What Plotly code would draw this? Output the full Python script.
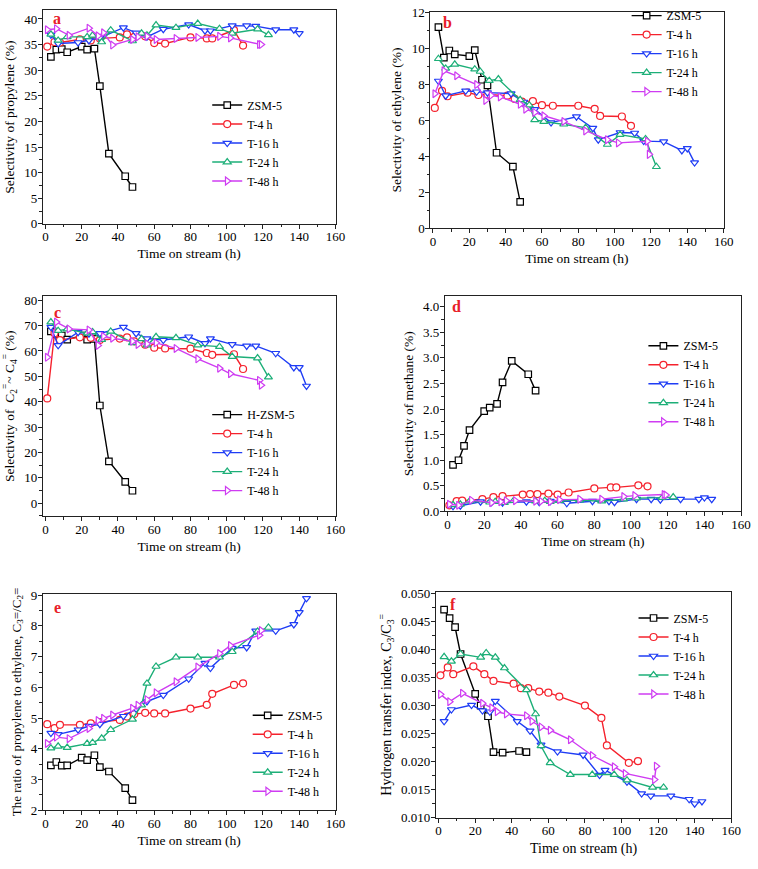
import plotly.graph_objects as go

W, H = 758, 869
SERIF = "Liberation Serif, Times New Roman, serif"

# ---------------- data ----------------
series_names = ["ZSM-5", "T-4 h", "T-16 h", "T-24 h", "T-48 h"]
series_names_c = ["H-ZSM-5", "T-4 h", "T-16 h", "T-24 h", "T-48 h"]

t_zsm = [3, 6, 9, 12, 20, 23, 27, 30, 35, 44, 48]
t_4 = [1, 5, 8, 19, 25, 30, 41, 45, 49, 55, 60, 66, 80, 89, 92, 104, 109]
t_16 = [3, 7, 18, 24, 30, 43, 50, 56, 65, 79, 88, 91, 103, 111, 116, 127, 137, 140, 144]
t_16_a = [3, 7, 18, 24, 30, 43, 50, 56, 65, 79, 88, 91, 103, 111, 116, 127, 137, 140]
t_16_f = [3, 7, 18, 24, 28, 31, 43, 50, 56, 65, 79, 88, 91, 103, 111, 116, 127, 137, 140, 144]
t_24 = [3, 7, 12, 23, 26, 31, 36, 48, 53, 56, 61, 72, 84, 96, 103, 117, 123]
t_48 = [1, 6, 13, 24, 29, 32, 37, 48, 51, 56, 61, 72, 84, 96, 102, 118, 119]

# (a) selectivity of propylene (%)
a_zsm = [32.6, 34.0, 34.1, 33.5, 34.6, 34.0, 34.2, 26.9, 13.7, 9.3, 7.2]
a_t4 = [34.6, 35.5, 35.4, 36.0, 35.8, 36.2, 36.4, 37.0, 36.5, 36.6, 35.3, 35.2, 36.4, 36.2, 36.2, 37.8, 34.8]
a_t16 = [36.9, 35.2, 35.4, 35.8, 36.3, 38.3, 37.3, 36.5, 38.0, 38.9, 37.7, 37.7, 38.7, 38.7, 38.6, 37.9, 37.9, 37.2]
a_t24 = [37.0, 35.8, 36.5, 36.5, 36.8, 35.5, 37.8, 35.7, 37.2, 36.8, 38.8, 38.3, 39.1, 38.1, 37.2, 38.0, 36.9]
a_t48 = [37.9, 38.1, 36.8, 38.2, 36.7, 37.3, 34.9, 36.0, 36.5, 36.6, 36.0, 36.2, 36.4, 36.6, 36.3, 35.0, 35.0]

# (b) selectivity of ethylene (%)
b_zsm = [11.2, 9.5, 9.9, 9.68, 9.59, 9.92, 8.27, 7.95, 4.2, 3.43, 1.46]
b_t4 = [6.7, 7.65, 7.35, 7.55, 7.42, 7.45, 7.38, 7.2, 7.05, 7.08, 6.85, 6.82, 6.82, 6.65, 6.25, 6.22, 5.7]
b_t16 = [8.2, 7.38, 7.65, 7.6, 7.55, 7.5, 7.03, 6.62, 5.88, 6.21, 5.57, 4.93, 5.33, 5.3, 4.85, 4.82, 4.33, 4.44, 3.65]
b_t24 = [9.44, 8.9, 9.13, 8.86, 8.73, 8.22, 8.31, 7.15, 6.85, 6.03, 5.94, 5.79, 5.6, 4.66, 5.21, 4.97, 3.42]
b_t48 = [7.49, 8.77, 8.49, 8.0, 7.12, 7.40, 7.31, 6.9, 6.63, 6.45, 6.26, 5.94, 5.42, 4.93, 4.75, 4.84, 4.11]

# (c) selectivity of C2= ~ C4= (%)
c_zsm = [67.7, 66.5, 66.1, 64.5, 66.1, 64.5, 64.8, 38.5, 16.5, 8.4, 4.9]
c_t4 = [41.3, 67.0, 64.3, 65.4, 65.2, 64.3, 64.9, 65.4, 63.8, 62.5, 61.3, 61.0, 60.9, 59.2, 58.5, 58.7, 52.9]
c_t16 = [69.4, 62.2, 67.4, 66.8, 66.9, 69.4, 66.9, 64.9, 64.3, 65.6, 63.0, 64.9, 62.6, 62.0, 62.0, 59.1, 53.5, 53.5, 46.2]
c_t24 = [71.4, 68.0, 68.6, 67.0, 67.5, 64.5, 67.7, 63.2, 64.8, 62.3, 65.6, 65.2, 62.3, 61.7, 57.8, 57.2, 49.7]
c_t48 = [57.5, 71.4, 68.7, 68.3, 62.2, 65.8, 65.0, 63.8, 62.6, 62.8, 63.2, 61.0, 56.9, 53.2, 51.0, 48.4, 46.5]

# (d) selectivity of methane (%)
d_zsm = [0.91, 1.0, 1.28, 1.59, 1.96, 2.03, 2.10, 2.52, 2.94, 2.68, 2.36]
d_t4 = [0.12, 0.20, 0.21, 0.24, 0.28, 0.30, 0.33, 0.34, 0.34, 0.35, 0.33, 0.37, 0.45, 0.47, 0.47, 0.51, 0.49]
d_t16 = [0.10, 0.11, 0.19, 0.18, 0.17, 0.19, 0.18, 0.20, 0.16, 0.20, 0.20, 0.18, 0.24, 0.24, 0.23, 0.24, 0.24, 0.27, 0.24]
d_t24 = [0.13, 0.14, 0.20, 0.18, 0.19, 0.17, 0.21, 0.20, 0.21, 0.19, 0.21, 0.22, 0.20, 0.24, 0.26, 0.27, 0.28]
d_t48 = [0.14, 0.12, 0.22, 0.17, 0.19, 0.21, 0.21, 0.20, 0.20, 0.19, 0.23, 0.24, 0.24, 0.29, 0.31, 0.33, 0.32]

# (e) ratio of propylene to ethylene
e_zsm = [3.46, 3.57, 3.45, 3.46, 3.71, 3.63, 3.79, 3.40, 3.26, 2.72, 2.33]
e_t4 = [4.80, 4.67, 4.78, 4.78, 4.83, 4.87, 4.94, 5.05, 5.13, 5.17, 5.15, 5.15, 5.31, 5.43, 5.79, 6.08, 6.13]
e_t16 = [4.51, 4.47, 4.62, 4.74, 4.80, 5.06, 5.30, 5.54, 5.75, 6.28, 6.79, 6.63, 7.28, 7.30, 7.84, 7.84, 8.05, 8.44, 8.90]
e_t24 = [4.02, 4.08, 4.04, 4.17, 4.20, 4.34, 4.62, 4.96, 5.42, 6.13, 6.68, 6.98, 6.98, 6.98, 7.16, 7.82, 7.95]
e_t48 = [4.17, 4.38, 4.33, 4.66, 4.92, 4.99, 5.10, 5.32, 5.42, 5.60, 5.82, 6.18, 6.66, 7.10, 7.36, 7.70, 7.85]

# (f) hydrogen transfer index
f_zsm = [0.0471, 0.0456, 0.0440, 0.0392, 0.0321, 0.0300, 0.0281, 0.0217, 0.0216, 0.0219, 0.0217]
f_t4 = [0.0354, 0.0368, 0.0356, 0.0370, 0.0356, 0.0344, 0.0339, 0.0331, 0.0331, 0.0325, 0.0323, 0.0316, 0.0300, 0.0278, 0.0229, 0.0198, 0.0201]
f_t16 = [0.0272, 0.0293, 0.0301, 0.0291, 0.0289, 0.0308, 0.0272, 0.0255, 0.0230, 0.0218, 0.0212, 0.0176, 0.0185, 0.0164, 0.0143, 0.0139, 0.0139, 0.0133, 0.0125, 0.0129]
f_t24 = [0.0387, 0.0379, 0.0392, 0.0386, 0.0394, 0.0386, 0.0367, 0.0328, 0.0285, 0.0228, 0.0198, 0.0177, 0.0177, 0.0177, 0.0167, 0.0154, 0.0154]
f_t48 = [0.0320, 0.0307, 0.0322, 0.0304, 0.0296, 0.0289, 0.0285, 0.0282, 0.0272, 0.0262, 0.0256, 0.0239, 0.0211, 0.0191, 0.0179, 0.0168, 0.0192]

x_title = "Time on stream (h)"
y_titles = [
    "Selectivity of propylene (%)",
    "Selectivity of ethylene (%)",
    "Selectivity of  C<sub>2</sub><sup>=</sup>~ C<sub>4</sub><sup>=</sup> (%)",
    "Selectivity of methane (%)",
    "The ratio of propylene to ethylene, C<sub>3</sub>=/C<sub>2</sub>=",
    "Hydrogen transfer index, C<sub>3</sub>/C<sub>3</sub><sup>=</sup>",
]
panel_letters = ["a", "b", "c", "d", "e", "f"]

# ---------------- styles ----------------
colors = ["#000000", "#f5222d", "#1f3df5", "#1daf78", "#cf3cf2"]
symbols = ["square", "circle", "triangle-down", "triangle-up", "triangle-right"]

panels = [
    dict(data=[(t_zsm, a_zsm), (t_4, a_t4), (t_16_a, a_t16), (t_24, a_t24), (t_48, a_t48)],
         names=series_names, box=(43.3, 340, 3.3, 220.7), yr=[0, 41.7], dt=5, mdt=2.5, fmt="d",
         leg=(210, 85), let=(58, 12), ytf=13.5),
    dict(data=[(t_zsm, b_zsm), (t_4, b_t4), (t_16, b_t16), (t_24, b_t24), (t_48, b_t48)],
         names=series_names, box=(436, 733.3, 5, 225), yr=[0, 12.05], dt=2, mdt=1, fmt="d",
         leg=(635, -6), let=(453, 16), ytf=13.5),
    dict(data=[(t_zsm, c_zsm), (t_4, c_t4), (t_16, c_t16), (t_24, c_t24), (t_48, c_t48)],
         names=series_names_c, box=(43.3, 340, 294, 518.3), yr=[-5.2, 81.7], dt=10, mdt=5, fmt="d",
         leg=(210, 400), let=(58, 311), ytf=13.5),
    dict(data=[(t_zsm, d_zsm), (t_4, d_t4), (t_16, d_t16), (t_24, d_t24), (t_48, d_t48)],
         names=series_names, box=(450.7, 751, 294, 513.3), yr=[0, 4.21], dt=0.5, mdt=0.25, fmt=".1f",
         leg=(652, 330), let=(463, 305), ytf=13.5),
    dict(data=[(t_zsm, e_zsm), (t_4, e_t4), (t_16, e_t16), (t_24, e_t24), (t_48, e_t48)],
         names=series_names, box=(43.3, 340, 597, 817.3), yr=[2, 9.05], dt=1, mdt=0.5, fmt="d",
         leg=(251, 706), let=(58, 611), ytf=13),
    dict(data=[(t_zsm, f_zsm), (t_4, f_t4), (t_16_f, f_t16), (t_24, f_t24), (t_48, f_t48)],
         names=series_names, box=(441.7, 741, 595, 825), yr=[0.010, 0.0503], dt=0.005, mdt=0.0025, fmt=".3f",
         leg=(642, 607), let=(459, 608), ytf=14),
]

fig = go.Figure()
layout = dict(width=W, height=H, margin=dict(l=0, r=0, t=0, b=0),
              paper_bgcolor="white", plot_bgcolor="white",
              font=dict(family=SERIF, color="black", size=13), annotations=[])

for i, p in enumerate(panels):
    k = "" if i == 0 else str(i + 1)
    xa, ya = "x" + k, "y" + k
    leg = "legend" + k
    for j, (tt, vv) in enumerate(p["data"]):
        fig.add_trace(go.Scatter(
            x=tt, y=vv, mode="lines+markers", name=p["names"][j],
            xaxis=xa, yaxis=ya, legend=leg,
            line=dict(color=colors[j], width=1.4),
            marker=dict(symbol=symbols[j], size=6.5 if j == 0 else 7,
                        color="white", line=dict(color=colors[j], width=1.2)),
        ))
    x0, x1, top, bot = p["box"]
    common = dict(showline=True, linecolor="#222", linewidth=1, mirror=True,
                  ticks="outside", ticklen=4, tickcolor="#222", showgrid=False, zeroline=False,
                  tickfont=dict(family=SERIF, size=13, color="black"))
    layout["xaxis" + k] = dict(
        domain=[x0 / W, x1 / W], anchor=ya, range=[-1.5, 160], tick0=0, dtick=20,
        ticklabelstandoff=-3,
        minor=dict(dtick=10, ticks="outside", ticklen=2.5, tickcolor="#222"),
        title=dict(text=x_title, font=dict(family=SERIF, size=14 if i == 5 else 13.5), standoff=5),
        **common)
    layout["yaxis" + k] = dict(
        domain=[1 - bot / H, 1 - top / H], anchor=xa, range=p["yr"], tick0=0, dtick=p["dt"],
        tickformat=p["fmt"], ticklabelstandoff=-2,
        minor=dict(dtick=p["mdt"], ticks="outside", ticklen=2.5, tickcolor="#222"),
        title=dict(text=y_titles[i], font=dict(family=SERIF, size=p["ytf"]), standoff=6),
        **common)
    lx, ly = p["leg"]
    layout[leg] = dict(x=lx / W, y=1 - ly / H, xanchor="left", yanchor="top",
                       bgcolor="rgba(0,0,0,0)", borderwidth=0, tracegroupgap=0,
                       font=dict(family=SERIF, size=12, color="black"))
    ax, ay = p["let"]
    layout["annotations"].append(dict(
        x=ax / W, y=1 - ay / H, xref="paper", yref="paper", text="<b>" + panel_letters[i] + "</b>",
        showarrow=False, xanchor="center", yanchor="middle",
        font=dict(family=SERIF, size=16, color="#e8202a")))

fig.update_layout(**layout)
fig.write_html("out.html")
